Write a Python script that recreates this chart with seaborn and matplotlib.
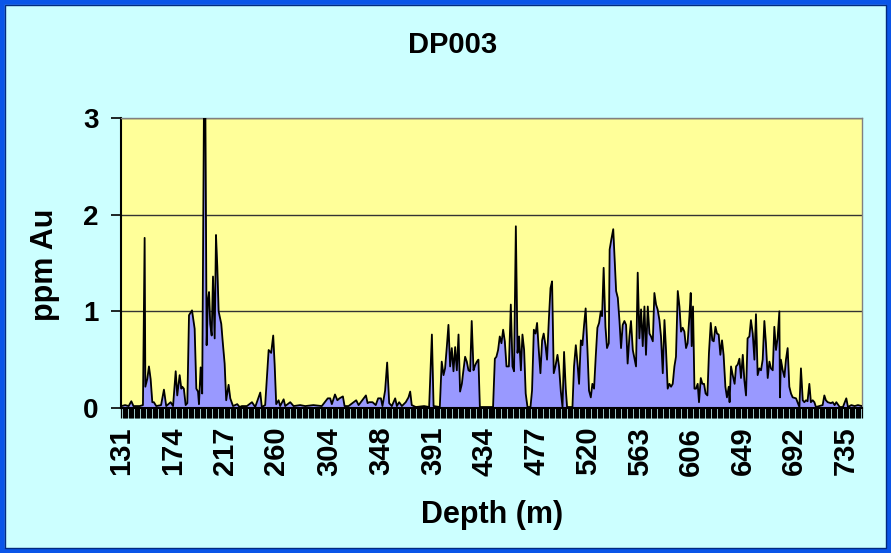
import matplotlib
matplotlib.use("Agg")
import numpy as np
import pandas as pd
import matplotlib.pyplot as plt
import seaborn as sns
from matplotlib.patches import Rectangle
from matplotlib.ticker import MultipleLocator

# Gold assays down hole DP003
depth_m = [
    131, 134, 137, 139.2, 141, 146.2, 148.9, 150.3, 150.9, 152.5, 153.9, 155.3, 156.7, 158, 160,
    164, 166.4, 168.3, 172, 174, 176.2, 177.5, 179.5, 180.9, 181.7, 183, 184.5, 185.9,
    187.3, 189.8, 192, 193.4, 194.8, 195.6, 197, 198.3, 199.8, 200.9, 202, 203, 204, 205,
    206.2, 207.3, 208.7, 209.8, 210.9, 212, 213, 214.2, 215.3, 217, 218.3, 220.3, 221.7,
    224, 227.5, 229.5,
    231.4, 235.6, 239.8, 242.5, 246.7, 248, 250.8, 253.7, 255.8, 257.5, 258.7, 260, 262,
    263.3, 266.2, 267.5, 271.7, 274.5, 280, 284.2, 291, 298, 303, 305, 306.4, 309, 311,
    312.8, 315.6, 317, 320.3, 326.7, 328.7,
    334.8, 336.2, 337.5, 340.3, 343, 345, 347.3, 348.6, 350.8, 352.5, 354.2, 356.4, 359.2,
    360.6, 362.5, 364.8, 368, 370.3, 371.7, 373, 376.4, 383.3, 387.5, 389.8, 391.2, 396.4,
    398, 399.5, 400.8, 402.3, 403.6, 405, 406.4, 407.8, 409.2, 410.6, 412, 413.3, 414.8,
    415.8, 417.5, 418.9, 420.3, 421.7, 423, 424.5, 425.8, 427.3, 428.6, 429.8, 437.5,
    440.8, 442.3, 443.6, 445, 446.4, 447.8, 449.2, 450.6, 452, 454, 455.6, 457, 458.3,
    459.8, 461.2, 462.5, 464, 465.3, 466.7, 468, 469.5, 472, 473.3, 474.8, 476.2, 477.5,
    478.9, 480.3, 481.7, 483, 484.5, 485.8, 487.3, 488.7, 490, 491.4, 492.8, 494.5, 495.8,
    497.3, 498.7, 500, 501.4, 502.5, 507, 508.3, 509.8, 511.2, 512.5, 514, 515.3, 516.7,
    518, 519.5, 520.8, 522.3, 523.6, 525, 526.4, 527.8, 529.2, 530.6, 531.7, 533, 534.5,
    535.8, 537.3, 538, 539.5, 541, 543.4, 544.8, 546.2, 547.5, 548.9, 550.3, 551.7, 553,
    554.5, 555.8, 557.3, 558.7, 560, 561.4, 562.8, 564.2, 565.6, 567, 568.3, 569.8, 571.2,
    572.5, 574, 575.3, 576.7, 578, 579.5, 580.8, 582.3, 583.7, 585, 586.4, 587.8, 589.2,
    590.6, 592, 593.3, 594.8, 596.2, 597.5, 598.9, 600.3, 601.7, 603, 604.5, 605.6, 606.4,
    607.5, 608.7, 610, 611.4, 612.5, 614, 615.3, 616.7, 618, 619.5, 620.8, 622.3, 623.6,
    624.8, 626.2, 627.5, 628.9, 630.3, 631.7, 633, 634.5, 635.8, 637.3, 638, 639.2, 640.6,
    642.2, 643.4, 644.8, 646.2, 647.5, 649, 650.3, 651.7, 653, 654.5, 655.8, 657.3, 658.7,
    660, 661.4, 662.8, 664.2, 665.6, 667, 668.3, 669.8, 671.2, 672.5, 674, 675.3, 676.7,
    678, 679.5, 680, 680.8, 682.3, 683.7, 685, 686.4, 687.8, 689.2, 690.6, 693.4, 696.2,
    697.5, 699, 700.3, 701.7, 703, 704.5, 705.8, 707.3, 708.7, 710, 712.8, 715.6, 717,
    718.3, 719.8, 722.5, 724, 725.6, 727, 729.8, 732.5, 735.3, 736.7, 739.5, 742.3, 745,
    748.4,
]
au_ppm = [
    0.02, 0.03, 0.02, 0.07, 0.02, 0.02, 0.03, 1.76, 0.22, 0.30, 0.43, 0.30, 0.06, 0.06, 0.02,
    0.03, 0.19, 0.02, 0.06, 0.02, 0.38, 0.13, 0.34, 0.20, 0.22, 0.20, 0.03, 0.05,
    0.96, 1.01, 0.82, 0.20, 0.17, 0.04, 0.42, 0.15, 3.20, 3.20, 0.65, 1.11, 1.20, 0.87,
    0.75, 1.36, 0.72, 1.79, 1.46, 1.00, 0.94, 0.87, 0.70, 0.46, 0.08, 0.24, 0.10,
    0.02, 0.04, 0.01,
    0.02, 0.02, 0.06, 0.01, 0.16, 0.01, 0.03, 0.60, 0.57, 0.75, 0.45, 0.04, 0.08,
    0.02, 0.09, 0.02, 0.06, 0.02, 0.03, 0.02, 0.03, 0.02, 0.10, 0.10, 0.04, 0.14, 0.08,
    0.10, 0.12, 0.02, 0.02, 0.08, 0.03,
    0.13, 0.05, 0.06, 0.06, 0.03, 0.10, 0.10, 0.02, 0.18, 0.47, 0.05, 0.02, 0.10,
    0.02, 0.06, 0.02, 0.06, 0.11, 0.17, 0.03, 0.01, 0.02, 0.01, 0.76, 0.02, 0.01,
    0.48, 0.34, 0.41, 0.64, 0.86, 0.43, 0.62, 0.38, 0.63, 0.39, 0.76, 0.17, 0.25,
    0.36, 0.53, 0.48, 0.39, 0.38, 0.90, 0.39, 0.44, 0.48, 0.50, 0.01, 0.01,
    0.01, 0.51, 0.53, 0.60, 0.74, 0.67, 0.81, 0.69, 0.43, 0.43, 1.07, 0.43, 0.38,
    1.88, 0.57, 0.74, 0.39, 0.76, 0.60, 0.15, 0.01, 0.01, 0.18, 0.81, 0.77, 0.88,
    0.60, 0.36, 0.70, 0.77, 0.65, 0.50, 0.91, 1.24, 1.31, 0.36, 0.43, 0.55, 0.43,
    0.17, 0.01, 0.58, 0.20, 0.01, 0.01, 0.43, 0.65, 0.46, 0.25, 0.70, 0.65, 0.86,
    1.03, 0.60, 0.18, 0.11, 0.25, 0.20, 0.53, 0.83, 0.88, 1.00, 0.95, 1.45, 0.84,
    0.62, 0.67, 1.64, 1.75, 1.85, 1.21, 1.14, 0.90, 0.62, 0.86, 0.90, 0.86, 0.46,
    0.74, 0.90, 0.60, 0.51, 0.43, 1.40, 0.72, 1.02, 0.64, 1.05, 0.55, 1.05, 0.77,
    0.74, 0.69, 1.19, 1.07, 1.02, 0.91, 0.74, 0.36, 0.91, 0.60, 0.20, 0.25, 0.22,
    0.25, 0.43, 0.53, 1.21, 1.05, 0.79, 0.83, 0.79, 0.62, 0.67, 0.95, 1.19, 0.64,
    1.05, 0.20, 0.20, 0.25, 0.06, 0.31, 0.25, 0.25, 0.15, 0.13, 0.57, 0.88, 0.70,
    0.69, 0.84, 0.77, 0.76, 0.55, 0.70, 0.55, 0.22, 0.11, 0.22, 0.06, 0.43, 0.34,
    0.25, 0.43, 0.45, 0.51, 0.31, 0.55, 0.29, 0.13, 0.72, 0.74, 0.91, 0.77, 0.50,
    0.97, 0.34, 0.41, 0.39, 0.50, 0.90, 0.67, 0.31, 0.48, 0.41, 0.39, 0.84, 0.60,
    0.72, 1.00, 0.11, 0.50, 0.39, 0.32, 0.50, 0.62, 0.22, 0.15, 0.11, 0.10, 0.01,
    0.41, 0.08, 0.06, 0.08, 0.07, 0.25, 0.06, 0.08, 0.06, 0.01, 0.02, 0.03, 0.13,
    0.08, 0.06, 0.05, 0.06, 0.03, 0.06, 0.01, 0.01, 0.10, 0.01, 0.03, 0.02, 0.03,
    0.02,
]
tick_depths = [131, 174, 217, 260, 304, 348, 391, 434, 477, 520, 563, 606, 649, 692, 735]
y_ticks = [0, 1, 2, 3]

df = pd.DataFrame({'depth': depth_m, 'au': au_ppm})

sns.set_theme(style='ticks')
plt.rcParams['font.family'] = ['Liberation Sans', 'DejaVu Sans']
plt.rcParams['font.weight'] = 'bold'
plt.rcParams['text.color'] = 'black'
plt.rcParams['xtick.color'] = 'black'
plt.rcParams['ytick.color'] = 'black'
plt.rcParams['xtick.labelcolor'] = 'black'
plt.rcParams['ytick.labelcolor'] = 'black'

W, H = 891, 553
fig = plt.figure(figsize=(W / 100, H / 100), dpi=100, facecolor='#CCFFFF')
ax = fig.add_axes([121 / W, 1 - 408 / H, 741 / W, 290 / H])
ax.set_facecolor('#FFFF99')
ax.set_axisbelow(True)

ax.fill_between(df['depth'], df['au'], color='#9999FF', lw=0, zorder=2)
sns.lineplot(data=df, x='depth', y='au', color='black', lw=1.3, ax=ax, zorder=3)

ax.set_xlim(130.6, 748.4)
ax.set_ylim(0, 3)
ax.set_xlabel('')
ax.set_ylabel('')

ax.set_xticks(tick_depths)
ax.set_xticklabels([str(t) for t in tick_depths], rotation=90, fontsize=21,
                   fontweight='bold', color='black')
ax.xaxis.set_minor_locator(MultipleLocator(1))
ax.set_yticks(y_ticks)
ax.set_yticklabels([str(t) for t in y_ticks], fontsize=20, fontweight='bold', color='black')

ax.tick_params(axis='x', which='both', direction='out', length=7.5, width=0.9,
               color='black', pad=6)
ax.tick_params(axis='y', direction='out', length=7, width=1.2, color='black', pad=9)
ax.yaxis.grid(True, color='#333333', lw=1)

for side in ['left', 'bottom']:
    ax.spines[side].set_color('black')
    ax.spines[side].set_linewidth(1.5)
for side in ['top', 'right']:
    ax.spines[side].set_visible(True)
    ax.spines[side].set_color('#808080')
    ax.spines[side].set_linewidth(1)

fig.text(453 / W, 1 - 45 / H, 'DP003', ha='center', va='center', fontsize=21,
         fontweight='bold', color='black')
fig.text(492 / W, 1 - 515 / H, 'Depth (m)', ha='center', va='center', fontsize=22,
         fontweight='bold', color='black')
fig.text(45 / W, 1 - 265 / H, 'ppm Au', ha='center', va='center', rotation=90,
         fontsize=22, fontweight='bold', color='black')

# blue frame round the slide
fig.patches.append(Rectangle((0, 0), 1, 1, transform=fig.transFigure, fill=False,
                             edgecolor='#0A55E8', lw=7, zorder=10))
fig.patches.append(Rectangle((5 / W, 5 / H), 1 - 10 / W, 1 - 10 / H, transform=fig.transFigure,
                             fill=False, edgecolor='#002A80', lw=1, zorder=10))

fig.savefig('out.png', dpi=100, facecolor=fig.get_facecolor())
